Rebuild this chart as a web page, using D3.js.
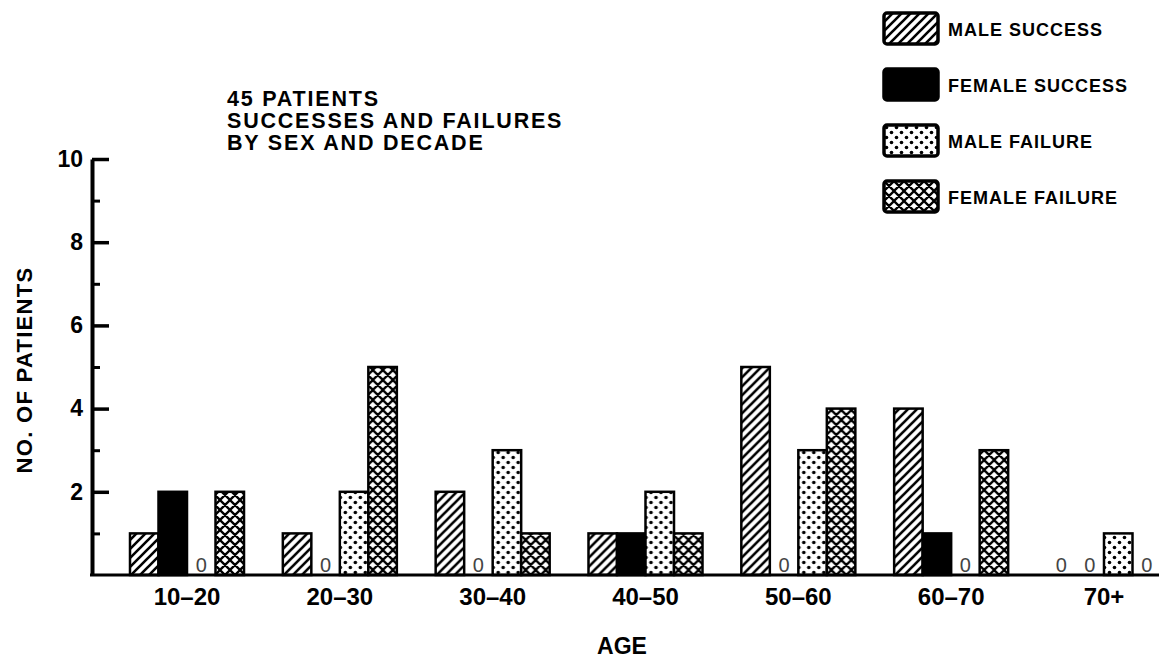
<!DOCTYPE html>
<html>
<head>
<meta charset="utf-8">
<script src="https://cdn.jsdelivr.net/npm/d3@7"></script>
<style>
  html, body { margin: 0; padding: 0; background: #fff; }
  svg { display: block; font-family: "Liberation Sans", Arial, Helvetica, sans-serif; }
</style>
</head>
<body>
<svg id="chart" width="1159" height="660"></svg>
<script>
// ---- data ----
const categories = ["10\u201320", "20\u201330", "30\u201340", "40\u201350", "50\u201360", "60\u201370", "70+"];
const seriesNames = ["MALE SUCCESS", "FEMALE SUCCESS", "MALE FAILURE", "FEMALE FAILURE"];
const maleSuccess   = [1, 1, 2, 1, 5, 4, 0];
const femaleSuccess = [2, 0, 0, 1, 0, 1, 0];
const maleFailure   = [0, 2, 3, 2, 3, 0, 1];
const femaleFailure = [2, 5, 1, 1, 4, 3, 0];
const majorTicks = [2, 4, 6, 8, 10];
const minorTicks = [1, 3, 5, 7, 9];
const titleLines = ["45 PATIENTS", "SUCCESSES AND FAILURES", "BY SEX AND DECADE"];
const yLabel = "NO. OF PATIENTS";
const xLabel = "AGE";

const seriesValues = [maleSuccess, femaleSuccess, maleFailure, femaleFailure];
const patternIds = ["hatch", "solid", "dots", "cross"];

const svg = d3.select("#chart");
const defs = svg.append("defs");

// patterns
const ph = defs.append("pattern").attr("id", "hatch").attr("patternUnits", "userSpaceOnUse")
  .attr("width", 9).attr("height", 9);
ph.append("rect").attr("width", 9).attr("height", 9).attr("fill", "#fff");
ph.append("path").attr("d", "M-2,11 L11,-2 M-2,2 L2,-2 M7,11 L11,7")
  .attr("stroke", "#000").attr("stroke-width", 2.6);

const pd = defs.append("pattern").attr("id", "dots").attr("patternUnits", "userSpaceOnUse")
  .attr("width", 10).attr("height", 10);
pd.append("rect").attr("width", 10).attr("height", 10).attr("fill", "#fff");
pd.append("circle").attr("cx", 2.5).attr("cy", 2.5).attr("r", 1.8).attr("fill", "#000");
pd.append("circle").attr("cx", 7.5).attr("cy", 7.5).attr("r", 1.8).attr("fill", "#000");

const pc = defs.append("pattern").attr("id", "cross").attr("patternUnits", "userSpaceOnUse")
  .attr("width", 10).attr("height", 10);
pc.append("rect").attr("width", 10).attr("height", 10).attr("fill", "#fff");
pc.append("path").attr("d", "M-2,12 L12,-2 M-2,2 L2,-2 M8,12 L12,8 M-2,-2 L12,12 M-2,8 L2,12 M8,-2 L12,2")
  .attr("stroke", "#000").attr("stroke-width", 2.3);

function fillFor(i) { return patternIds[i] === "solid" ? "#000" : `url(#${patternIds[i]})`; }

// ---- scales ----
const axisX = 92, baseY = 575, topY = 159;
const y = d3.scaleLinear().domain([0, 10]).range([baseY, topY]);
const x0 = d3.scaleBand().domain(categories).range([130, 1161]).paddingInner(0.254).paddingOuter(0);
const x1 = d3.scaleBand().domain(seriesNames).range([0, x0.bandwidth()]).padding(0);

// ---- bars ----
const groups = svg.append("g").selectAll("g").data(categories).join("g")
  .attr("transform", d => `translate(${x0(d)},0)`);

groups.each(function(cat, ci) {
  const g = d3.select(this);
  seriesNames.forEach((s, si) => {
    const v = seriesValues[si][ci];
    if (v > 0) {
      g.append("rect")
        .attr("x", x1(s)).attr("width", x1.bandwidth())
        .attr("y", y(v)).attr("height", y(0) - y(v))
        .attr("fill", fillFor(si)).attr("stroke", "#000").attr("stroke-width", 2.5);
    } else {
      g.append("text")
        .attr("x", x1(s) + x1.bandwidth() / 2).attr("y", baseY - 3)
        .attr("text-anchor", "middle").attr("font-size", 20).attr("fill", "#444")
        .text("0");
    }
  });
});

// ---- axes ----
const yAxisG = svg.append("g").attr("transform", `translate(${axisX},0)`)
  .call(d3.axisLeft(y).tickValues(majorTicks).tickSizeInner(-17).tickSizeOuter(0).tickPadding(9).tickFormat(d3.format("d")));
yAxisG.select(".domain").attr("stroke", "#000").attr("stroke-width", 4);
yAxisG.selectAll(".tick line").attr("stroke", "#000").attr("stroke-width", 3.5);
yAxisG.selectAll(".tick text").attr("font-size", 23).attr("font-weight", "bold").attr("fill", "#000")
  .attr("font-family", "Liberation Sans, Arial, sans-serif");

const yMinorG = svg.append("g").attr("transform", `translate(${axisX},0)`)
  .call(d3.axisLeft(y).tickValues(minorTicks).tickSizeInner(-8).tickSizeOuter(0).tickFormat(""));
yMinorG.select(".domain").remove();
yMinorG.selectAll(".tick line").attr("stroke", "#000").attr("stroke-width", 3);

// x baseline
svg.append("line").attr("x1", axisX - 2).attr("x2", 1159).attr("y1", baseY).attr("y2", baseY)
  .attr("stroke", "#000").attr("stroke-width", 3);

const xAxisG = svg.append("g").attr("transform", `translate(0,${baseY})`)
  .call(d3.axisBottom(x0).tickSize(0));
xAxisG.select(".domain").remove();
xAxisG.selectAll(".tick text").attr("y", 30).attr("dy", 0)
  .attr("font-size", 24).attr("font-weight", "bold").attr("fill", "#000")
  .attr("font-family", "Liberation Sans, Arial, sans-serif");

// axis titles
svg.append("text").attr("transform", "translate(32,370) rotate(-90)")
  .attr("text-anchor", "middle").attr("font-size", 22).attr("font-weight", "bold")
  .attr("letter-spacing", 1.3).text(yLabel);
svg.append("text").attr("x", 622).attr("y", 654)
  .attr("text-anchor", "middle").attr("font-size", 23).attr("font-weight", "bold").text(xLabel);

// title
svg.append("g").selectAll("text").data(titleLines).join("text")
  .attr("x", 227).attr("y", (d, i) => 106 + i * 22)
  .attr("font-size", 21.5).attr("font-weight", "bold").attr("letter-spacing", 1.8).text(d => d);

// legend
const legend = svg.append("g").selectAll("g").data(seriesNames).join("g")
  .attr("transform", (d, i) => `translate(884,${13 + i * 56})`);
legend.append("rect").attr("width", 54).attr("height", 31).attr("rx", 3)
  .attr("fill", (d, i) => fillFor(i)).attr("stroke", "#000").attr("stroke-width", 3.5);
legend.append("text").attr("x", 64).attr("y", 17).attr("dy", "0.35em")
  .attr("font-size", 18).attr("font-weight", "bold").attr("letter-spacing", 1).text(d => d);
</script>
</body>
</html>
